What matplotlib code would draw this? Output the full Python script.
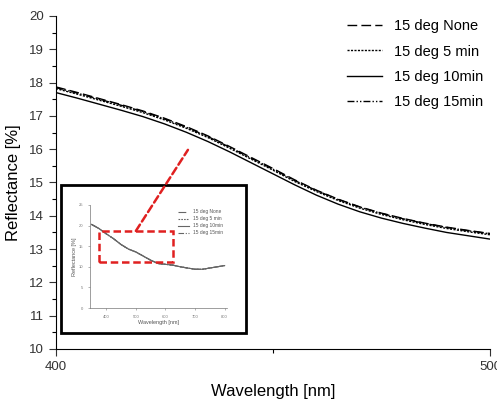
import numpy as np
import matplotlib
matplotlib.use("Agg")
import matplotlib.pyplot as plt
from matplotlib.patches import Rectangle, ConnectionPatch

plt.rcParams['font.family'] = ['Liberation Sans', 'DejaVu Sans']

# main (zoomed) data
wl = [400, 405, 410, 415, 420, 425, 430, 435, 440, 445, 450, 455, 460, 465, 470, 475, 480, 485, 490, 495, 500]
r_none = [17.87, 17.70, 17.52, 17.34, 17.15, 16.93, 16.68, 16.40, 16.08, 15.75, 15.42, 15.08, 14.77, 14.50, 14.27, 14.08, 13.92, 13.78, 13.66, 13.56, 13.47]
r_5min = [17.82, 17.65, 17.47, 17.29, 17.10, 16.88, 16.63, 16.35, 16.03, 15.70, 15.37, 15.03, 14.73, 14.46, 14.23, 14.04, 13.88, 13.74, 13.62, 13.52, 13.43]
r_10min = [17.70, 17.53, 17.35, 17.17, 16.98, 16.76, 16.51, 16.23, 15.92, 15.59, 15.26, 14.93, 14.62, 14.35, 14.12, 13.93, 13.77, 13.63, 13.50, 13.40, 13.30]
r_15min = [17.85, 17.68, 17.50, 17.32, 17.13, 16.91, 16.66, 16.38, 16.06, 15.73, 15.40, 15.06, 14.76, 14.49, 14.26, 14.07, 13.91, 13.77, 13.65, 13.55, 13.46]
labels = ["15 deg None", "15 deg 5 min", "15 deg 10min", "15 deg 15min"]

# full-range (inset) data
wl_full = [350, 375, 400, 425, 450, 475, 500, 525, 550, 575, 600, 625, 650, 675, 700, 725, 750, 775, 800]
r_full = [20.3, 19.3, 18.0, 16.8, 15.4, 14.3, 13.6, 12.6, 11.6, 10.8, 10.6, 10.4, 10.0, 9.7, 9.4, 9.4, 9.7, 10.0, 10.3]

W, H = 497, 401
fig = plt.figure(figsize=(W / 100, H / 100), dpi=100)
ax = fig.add_axes([56 / W, 1 - 349 / H, (490 - 56) / W, (349 - 16) / H])

styles = [(0, (7, 3)), (0, (1.5, 1)), '-', (0, (5, 1.5, 1, 1.5, 1, 1.5))]
for y, lab, ls in zip([r_none, r_5min, r_10min, r_15min], labels, styles):
    ax.plot(wl, y, color='black', lw=1.0, ls=ls, label=lab)

ax.set_xlim(400, 500)
ax.set_ylim(10, 20)
ax.set_xticks([400, 500])
ax.set_xticks([450], minor=True)
ax.set_yticks(range(10, 21))
ax.set_yticks(np.arange(10.5, 20, 1), minor=True)
ax.spines['top'].set_visible(False)
ax.spines['right'].set_visible(False)
ax.tick_params(which='major', length=5, width=0.8, labelsize=9.5, colors='#333333')
ax.tick_params(which='minor', length=3, width=0.8)
ax.set_xlabel("Wavelength [nm]", fontsize=12, labelpad=8)
ax.set_ylabel("Reflectance [%]", fontsize=12, labelpad=6)
leg = ax.legend(loc='upper right', bbox_to_anchor=(1.015, 1.03), frameon=False,
                fontsize=10.5, handlelength=2.4, labelspacing=0.78, handletextpad=0.8)

# inset frame
fig.add_artist(Rectangle((61 / W, 1 - 333 / H), (246 - 61) / W, (333 - 185) / H,
                         transform=fig.transFigure, facecolor='white',
                         edgecolor='black', lw=2, zorder=3))
ins = fig.add_axes([90 / W, 1 - 308 / H, (227 - 90) / W, (308 - 205) / H], zorder=4)
for ls in styles:
    ins.plot(wl_full, r_full, color='#666666', lw=0.8, ls=ls)
ins.set_xlim(345, 808)
ins.set_ylim(0, 25)
ins.set_xticks([400, 500, 600, 700, 800])
ins.set_yticks([0, 5, 10, 15, 20, 25])
ins.spines['top'].set_visible(False)
ins.spines['right'].set_visible(False)
for s in ins.spines.values():
    s.set_linewidth(0.5)
    s.set_color('#777777')
ins.tick_params(length=1.5, width=0.4, labelsize=3, colors='#777777')
ins.set_xlabel("Wavelength [nm]", fontsize=4, labelpad=1, color='#555555')
ins.set_ylabel("Reflectance [%]", fontsize=4, labelpad=1, color='#555555')
ins.legend(labels, loc='upper right', frameon=False, fontsize=3.5, handlelength=2.2,
           labelspacing=0.4, labelcolor='#555555')

# red zoom marker
ins.add_patch(Rectangle((375, 11.1), 250, 7.6, fill=False, edgecolor='#e02020',
                        lw=1.8, ls=(0, (3, 1.5)), zorder=5))
con = ConnectionPatch(xyA=(500, 18.7), coordsA=ins.transData,
                      xyB=(430.4, 15.98), coordsB=ax.transData,
                      color='#e02020', lw=1.8, ls=(0, (3, 1.5)), zorder=6)
fig.add_artist(con)

fig.savefig("out.png", dpi=100)
